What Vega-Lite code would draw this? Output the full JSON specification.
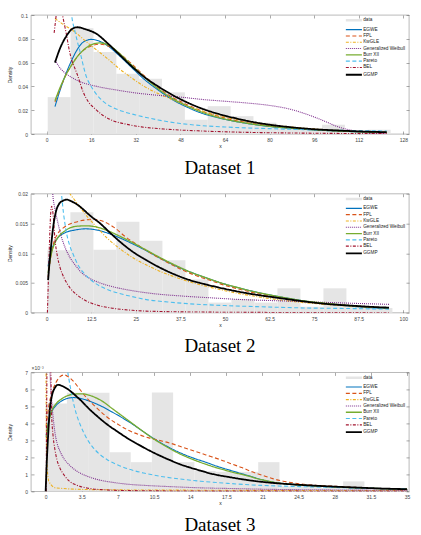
{
  "$schema": "https://vega.github.io/schema/vega-lite/v6.json",
  "background": "white",
  "padding": {"left": 6, "top": 12, "right": 4, "bottom": 2},
  "bounds": "flush",
  "spacing": 59.7,
  "config": {
    "view": {"stroke": "#8a8a8a", "strokeWidth": 0.6},
    "axis": {
      "labelFont": "Liberation Sans", "labelFontSize": 5, "labelColor": "#444",
      "tickColor": "#555", "tickWidth": 0.5, "tickSize": -3, "labelPadding": 6.5,
      "domain": false, "grid": false, "labelFlush": false, "labelOverlap": false,
      "titleFont": "Liberation Sans", "titleFontSize": 5, "titleFontWeight": "normal", "titleColor": "#222"
    },
    "legend": {
      "orient": "top-right", "offset": 3, "padding": 0,
      "labelFont": "Liberation Sans", "labelFontSize": 4.7, "labelColor": "#222",
      "symbolType": "M-1,0H9.7", "symbolSize": 9, "rowPadding": 0.3, "labelOffset": 13.5
    },
    "title": {"font": "Liberation Serif", "fontSize": 19, "fontWeight": "normal", "color": "#000", "orient": "bottom", "offset": 10}
  },
  "datasets": {
    "hist1": [
      {"series": "data", "lo": 0.4, "hi": 8.6, "density": 0.031},
      {"series": "data", "lo": 8.6, "hi": 16.8, "density": 0.0888},
      {"series": "data", "lo": 16.8, "hi": 25.0, "density": 0.069},
      {"series": "data", "lo": 25.0, "hi": 33.2, "density": 0.0506},
      {"series": "data", "lo": 33.2, "hi": 41.4, "density": 0.0465},
      {"series": "data", "lo": 41.4, "hi": 49.6, "density": 0.035},
      {"series": "data", "lo": 49.6, "hi": 57.8, "density": 0.012},
      {"series": "data", "lo": 57.8, "hi": 66.0, "density": 0.0234},
      {"series": "data", "lo": 66.0, "hi": 74.2, "density": 0.015},
      {"series": "data", "lo": 74.2, "hi": 82.4, "density": 0.0095},
      {"series": "data", "lo": 82.4, "hi": 90.6, "density": 0.005},
      {"series": "data", "lo": 90.6, "hi": 98.8, "density": 0.004},
      {"series": "data", "lo": 98.8, "hi": 107.0, "density": 0.0078},
      {"series": "data", "lo": 107.0, "hi": 115.2, "density": 0.002},
      {"series": "data", "lo": 115.2, "hi": 123.4, "density": 0.0036}
    ],
    "hist2": [
      {"series": "data", "lo": 0.2, "hi": 6.65, "density": 0.0105},
      {"series": "data", "lo": 6.65, "hi": 13.1, "density": 0.0169},
      {"series": "data", "lo": 13.1, "hi": 19.55, "density": 0.0106},
      {"series": "data", "lo": 19.55, "hi": 26.0, "density": 0.0153},
      {"series": "data", "lo": 26.0, "hi": 32.45, "density": 0.0121},
      {"series": "data", "lo": 32.45, "hi": 38.9, "density": 0.0088},
      {"series": "data", "lo": 38.9, "hi": 45.35, "density": 0.0056},
      {"series": "data", "lo": 45.35, "hi": 51.8, "density": 0.0017},
      {"series": "data", "lo": 51.8, "hi": 58.25, "density": 0.0023},
      {"series": "data", "lo": 58.25, "hi": 64.7, "density": 0.0017},
      {"series": "data", "lo": 64.7, "hi": 71.15, "density": 0.0041},
      {"series": "data", "lo": 71.15, "hi": 77.6, "density": 0.001},
      {"series": "data", "lo": 77.6, "hi": 84.05, "density": 0.0041},
      {"series": "data", "lo": 84.05, "hi": 90.5, "density": 0.001},
      {"series": "data", "lo": 90.5, "hi": 96.95, "density": 0.0008}
    ],
    "hist3": [
      {"series": "data", "lo": 0, "hi": 2.06, "density": 0.00517},
      {"series": "data", "lo": 2.06, "hi": 4.12, "density": 0.0058},
      {"series": "data", "lo": 4.12, "hi": 6.18, "density": 0.0058},
      {"series": "data", "lo": 6.18, "hi": 8.24, "density": 0.0023},
      {"series": "data", "lo": 8.24, "hi": 10.29, "density": 0.00172},
      {"series": "data", "lo": 10.29, "hi": 12.35, "density": 0.00582},
      {"series": "data", "lo": 12.35, "hi": 14.41, "density": 0.00172},
      {"series": "data", "lo": 14.41, "hi": 16.47, "density": 0.0012},
      {"series": "data", "lo": 16.47, "hi": 18.53, "density": 0.00115},
      {"series": "data", "lo": 18.53, "hi": 20.59, "density": 0.00115},
      {"series": "data", "lo": 20.59, "hi": 22.65, "density": 0.00172},
      {"series": "data", "lo": 22.65, "hi": 24.71, "density": 0.0003},
      {"series": "data", "lo": 24.71, "hi": 26.76, "density": 0.0003},
      {"series": "data", "lo": 26.76, "hi": 28.82, "density": 0.0002},
      {"series": "data", "lo": 28.82, "hi": 30.88, "density": 0.00059},
      {"series": "data", "lo": 30.88, "hi": 32.94, "density": 0.00015},
      {"series": "data", "lo": 32.94, "hi": 35.0, "density": 0.0001}
    ],
    "pdf1": [
      {"series": "EGWE", "x": 3, "density": 0.023}, {"series": "EGWE", "x": 5, "density": 0.038}, {"series": "EGWE", "x": 7, "density": 0.051}, {"series": "EGWE", "x": 9, "density": 0.062}, {"series": "EGWE", "x": 11, "density": 0.071}, {"series": "EGWE", "x": 13, "density": 0.077}, {"series": "EGWE", "x": 16, "density": 0.0795}, {"series": "EGWE", "x": 19, "density": 0.078}, {"series": "EGWE", "x": 22, "density": 0.074}, {"series": "EGWE", "x": 26, "density": 0.066}, {"series": "EGWE", "x": 30, "density": 0.057}, {"series": "EGWE", "x": 35, "density": 0.046}, {"series": "EGWE", "x": 40, "density": 0.037}, {"series": "EGWE", "x": 45, "density": 0.029}, {"series": "EGWE", "x": 50, "density": 0.023}, {"series": "EGWE", "x": 55, "density": 0.018}, {"series": "EGWE", "x": 60, "density": 0.0145}, {"series": "EGWE", "x": 65, "density": 0.0118}, {"series": "EGWE", "x": 72, "density": 0.0088}, {"series": "EGWE", "x": 80, "density": 0.0063}, {"series": "EGWE", "x": 88, "density": 0.0046}, {"series": "EGWE", "x": 96, "density": 0.0034}, {"series": "EGWE", "x": 104, "density": 0.0025}, {"series": "EGWE", "x": 112, "density": 0.0018}, {"series": "EGWE", "x": 122, "density": 0.0012},
      {"series": "FPL", "x": 3, "density": 0.027}, {"series": "FPL", "x": 5, "density": 0.039}, {"series": "FPL", "x": 7, "density": 0.05}, {"series": "FPL", "x": 9, "density": 0.058}, {"series": "FPL", "x": 11, "density": 0.065}, {"series": "FPL", "x": 13, "density": 0.07}, {"series": "FPL", "x": 16, "density": 0.074}, {"series": "FPL", "x": 19, "density": 0.0755}, {"series": "FPL", "x": 22, "density": 0.074}, {"series": "FPL", "x": 26, "density": 0.068}, {"series": "FPL", "x": 30, "density": 0.06}, {"series": "FPL", "x": 35, "density": 0.049}, {"series": "FPL", "x": 40, "density": 0.039}, {"series": "FPL", "x": 45, "density": 0.031}, {"series": "FPL", "x": 50, "density": 0.025}, {"series": "FPL", "x": 55, "density": 0.02}, {"series": "FPL", "x": 60, "density": 0.016}, {"series": "FPL", "x": 65, "density": 0.0128}, {"series": "FPL", "x": 72, "density": 0.0095}, {"series": "FPL", "x": 80, "density": 0.0068}, {"series": "FPL", "x": 88, "density": 0.005}, {"series": "FPL", "x": 96, "density": 0.0037}, {"series": "FPL", "x": 104, "density": 0.0027}, {"series": "FPL", "x": 112, "density": 0.002}, {"series": "FPL", "x": 122, "density": 0.0014},
      {"series": "KwGLE", "x": 3, "density": 0.097}, {"series": "KwGLE", "x": 6, "density": 0.092}, {"series": "KwGLE", "x": 10, "density": 0.086}, {"series": "KwGLE", "x": 14, "density": 0.078}, {"series": "KwGLE", "x": 18, "density": 0.0705}, {"series": "KwGLE", "x": 22, "density": 0.063}, {"series": "KwGLE", "x": 26, "density": 0.055}, {"series": "KwGLE", "x": 30, "density": 0.048}, {"series": "KwGLE", "x": 35, "density": 0.04}, {"series": "KwGLE", "x": 40, "density": 0.034}, {"series": "KwGLE", "x": 45, "density": 0.029}, {"series": "KwGLE", "x": 50, "density": 0.024}, {"series": "KwGLE", "x": 55, "density": 0.02}, {"series": "KwGLE", "x": 60, "density": 0.0165}, {"series": "KwGLE", "x": 65, "density": 0.0137}, {"series": "KwGLE", "x": 72, "density": 0.0105}, {"series": "KwGLE", "x": 80, "density": 0.0078}, {"series": "KwGLE", "x": 88, "density": 0.0058}, {"series": "KwGLE", "x": 96, "density": 0.0043}, {"series": "KwGLE", "x": 104, "density": 0.0031}, {"series": "KwGLE", "x": 112, "density": 0.0023}, {"series": "KwGLE", "x": 122, "density": 0.0015},
      {"series": "Generalized Weibull", "x": 3, "density": 0.062}, {"series": "Generalized Weibull", "x": 5, "density": 0.055}, {"series": "Generalized Weibull", "x": 8, "density": 0.049}, {"series": "Generalized Weibull", "x": 12, "density": 0.044}, {"series": "Generalized Weibull", "x": 18, "density": 0.04}, {"series": "Generalized Weibull", "x": 25, "density": 0.037}, {"series": "Generalized Weibull", "x": 32, "density": 0.0345}, {"series": "Generalized Weibull", "x": 40, "density": 0.0325}, {"series": "Generalized Weibull", "x": 48, "density": 0.031}, {"series": "Generalized Weibull", "x": 56, "density": 0.029}, {"series": "Generalized Weibull", "x": 64, "density": 0.0275}, {"series": "Generalized Weibull", "x": 72, "density": 0.026}, {"series": "Generalized Weibull", "x": 80, "density": 0.024}, {"series": "Generalized Weibull", "x": 88, "density": 0.0205}, {"series": "Generalized Weibull", "x": 94, "density": 0.016}, {"series": "Generalized Weibull", "x": 100, "density": 0.0105}, {"series": "Generalized Weibull", "x": 104, "density": 0.0065}, {"series": "Generalized Weibull", "x": 108, "density": 0.0038}, {"series": "Generalized Weibull", "x": 112, "density": 0.002}, {"series": "Generalized Weibull", "x": 116, "density": 0.0008}, {"series": "Generalized Weibull", "x": 122, "density": 0.0002},
      {"series": "Burr XII", "x": 3, "density": 0.028}, {"series": "Burr XII", "x": 5, "density": 0.04}, {"series": "Burr XII", "x": 7, "density": 0.05}, {"series": "Burr XII", "x": 9, "density": 0.058}, {"series": "Burr XII", "x": 11, "density": 0.065}, {"series": "Burr XII", "x": 13, "density": 0.07}, {"series": "Burr XII", "x": 16, "density": 0.075}, {"series": "Burr XII", "x": 19, "density": 0.0765}, {"series": "Burr XII", "x": 22, "density": 0.075}, {"series": "Burr XII", "x": 26, "density": 0.068}, {"series": "Burr XII", "x": 30, "density": 0.059}, {"series": "Burr XII", "x": 35, "density": 0.048}, {"series": "Burr XII", "x": 40, "density": 0.038}, {"series": "Burr XII", "x": 45, "density": 0.03}, {"series": "Burr XII", "x": 50, "density": 0.024}, {"series": "Burr XII", "x": 55, "density": 0.019}, {"series": "Burr XII", "x": 60, "density": 0.015}, {"series": "Burr XII", "x": 65, "density": 0.012}, {"series": "Burr XII", "x": 72, "density": 0.009}, {"series": "Burr XII", "x": 80, "density": 0.0065}, {"series": "Burr XII", "x": 88, "density": 0.0048}, {"series": "Burr XII", "x": 96, "density": 0.0035}, {"series": "Burr XII", "x": 104, "density": 0.0026}, {"series": "Burr XII", "x": 112, "density": 0.0019}, {"series": "Burr XII", "x": 122, "density": 0.0013},
      {"series": "Pareto", "x": 8.4, "density": 0.12}, {"series": "Pareto", "x": 9, "density": 0.1}, {"series": "Pareto", "x": 10, "density": 0.088}, {"series": "Pareto", "x": 11, "density": 0.078}, {"series": "Pareto", "x": 12, "density": 0.069}, {"series": "Pareto", "x": 13, "density": 0.059}, {"series": "Pareto", "x": 14, "density": 0.05}, {"series": "Pareto", "x": 16, "density": 0.04}, {"series": "Pareto", "x": 18, "density": 0.033}, {"series": "Pareto", "x": 20, "density": 0.028}, {"series": "Pareto", "x": 24, "density": 0.022}, {"series": "Pareto", "x": 28, "density": 0.0185}, {"series": "Pareto", "x": 32, "density": 0.016}, {"series": "Pareto", "x": 40, "density": 0.0118}, {"series": "Pareto", "x": 48, "density": 0.0088}, {"series": "Pareto", "x": 56, "density": 0.007}, {"series": "Pareto", "x": 64, "density": 0.0059}, {"series": "Pareto", "x": 72, "density": 0.0051}, {"series": "Pareto", "x": 80, "density": 0.0045}, {"series": "Pareto", "x": 96, "density": 0.0035}, {"series": "Pareto", "x": 112, "density": 0.0028}, {"series": "Pareto", "x": 122, "density": 0.0025},
      {"series": "BEL", "x": 2.7, "density": 0.085}, {"series": "BEL", "x": 3.3, "density": 0.097}, {"series": "BEL", "x": 3.8, "density": 0.108}, {"series": "BEL", "x": 4.5, "density": 0.114}, {"series": "BEL", "x": 5.2, "density": 0.106}, {"series": "BEL", "x": 5.7, "density": 0.1}, {"series": "BEL", "x": 6.3, "density": 0.093}, {"series": "BEL", "x": 7, "density": 0.085}, {"series": "BEL", "x": 8, "density": 0.072}, {"series": "BEL", "x": 9, "density": 0.062}, {"series": "BEL", "x": 10, "density": 0.056}, {"series": "BEL", "x": 11, "density": 0.05}, {"series": "BEL", "x": 13, "density": 0.036}, {"series": "BEL", "x": 15, "density": 0.027}, {"series": "BEL", "x": 17, "density": 0.022}, {"series": "BEL", "x": 20, "density": 0.016}, {"series": "BEL", "x": 24, "density": 0.011}, {"series": "BEL", "x": 28, "density": 0.0085}, {"series": "BEL", "x": 34, "density": 0.006}, {"series": "BEL", "x": 42, "density": 0.0042}, {"series": "BEL", "x": 56, "density": 0.0025}, {"series": "BEL", "x": 72, "density": 0.0014}, {"series": "BEL", "x": 90, "density": 0.0008}, {"series": "BEL", "x": 110, "density": 0.0004}, {"series": "BEL", "x": 122, "density": 0.0003},
      {"series": "GGMP", "x": 3, "density": 0.06}, {"series": "GGMP", "x": 5, "density": 0.073}, {"series": "GGMP", "x": 7, "density": 0.082}, {"series": "GGMP", "x": 9, "density": 0.088}, {"series": "GGMP", "x": 11, "density": 0.0897}, {"series": "GGMP", "x": 14, "density": 0.088}, {"series": "GGMP", "x": 18, "density": 0.084}, {"series": "GGMP", "x": 22, "density": 0.076}, {"series": "GGMP", "x": 26, "density": 0.067}, {"series": "GGMP", "x": 30, "density": 0.058}, {"series": "GGMP", "x": 35, "density": 0.048}, {"series": "GGMP", "x": 40, "density": 0.04}, {"series": "GGMP", "x": 45, "density": 0.033}, {"series": "GGMP", "x": 50, "density": 0.027}, {"series": "GGMP", "x": 55, "density": 0.022}, {"series": "GGMP", "x": 60, "density": 0.018}, {"series": "GGMP", "x": 65, "density": 0.0148}, {"series": "GGMP", "x": 72, "density": 0.011}, {"series": "GGMP", "x": 80, "density": 0.0078}, {"series": "GGMP", "x": 88, "density": 0.0056}, {"series": "GGMP", "x": 96, "density": 0.004}, {"series": "GGMP", "x": 104, "density": 0.003}, {"series": "GGMP", "x": 112, "density": 0.0022}, {"series": "GGMP", "x": 122, "density": 0.0015}
    ],
    "pdf2": [
      {"series": "EGWE", "x": 0.4, "density": 0.0078}, {"series": "EGWE", "x": 1, "density": 0.0098}, {"series": "EGWE", "x": 2, "density": 0.0115}, {"series": "EGWE", "x": 3, "density": 0.0125}, {"series": "EGWE", "x": 5, "density": 0.0134}, {"series": "EGWE", "x": 8, "density": 0.0139}, {"series": "EGWE", "x": 11, "density": 0.0141}, {"series": "EGWE", "x": 14, "density": 0.0139}, {"series": "EGWE", "x": 17, "density": 0.0134}, {"series": "EGWE", "x": 20, "density": 0.0127}, {"series": "EGWE", "x": 24, "density": 0.0116}, {"series": "EGWE", "x": 28, "density": 0.0104}, {"series": "EGWE", "x": 32, "density": 0.0091}, {"series": "EGWE", "x": 36, "density": 0.0079}, {"series": "EGWE", "x": 40, "density": 0.0069}, {"series": "EGWE", "x": 45, "density": 0.0058}, {"series": "EGWE", "x": 50, "density": 0.0048}, {"series": "EGWE", "x": 55, "density": 0.004}, {"series": "EGWE", "x": 60, "density": 0.0033}, {"series": "EGWE", "x": 66, "density": 0.0026}, {"series": "EGWE", "x": 72, "density": 0.002}, {"series": "EGWE", "x": 78, "density": 0.0015}, {"series": "EGWE", "x": 85, "density": 0.0011}, {"series": "EGWE", "x": 92, "density": 0.0008}, {"series": "EGWE", "x": 96, "density": 0.0007},
      {"series": "FPL", "x": 0.4, "density": 0.006}, {"series": "FPL", "x": 1, "density": 0.0088}, {"series": "FPL", "x": 2, "density": 0.0118}, {"series": "FPL", "x": 3, "density": 0.0132}, {"series": "FPL", "x": 5, "density": 0.0144}, {"series": "FPL", "x": 8, "density": 0.0152}, {"series": "FPL", "x": 11, "density": 0.0156}, {"series": "FPL", "x": 13, "density": 0.0157}, {"series": "FPL", "x": 16, "density": 0.0153}, {"series": "FPL", "x": 19, "density": 0.0143}, {"series": "FPL", "x": 22, "density": 0.0128}, {"series": "FPL", "x": 26, "density": 0.0112}, {"series": "FPL", "x": 30, "density": 0.0097}, {"series": "FPL", "x": 34, "density": 0.0084}, {"series": "FPL", "x": 38, "density": 0.0072}, {"series": "FPL", "x": 42, "density": 0.0062}, {"series": "FPL", "x": 46, "density": 0.0054}, {"series": "FPL", "x": 50, "density": 0.0046}, {"series": "FPL", "x": 55, "density": 0.0038}, {"series": "FPL", "x": 60, "density": 0.0031}, {"series": "FPL", "x": 66, "density": 0.0025}, {"series": "FPL", "x": 72, "density": 0.0019}, {"series": "FPL", "x": 78, "density": 0.0015}, {"series": "FPL", "x": 85, "density": 0.0012}, {"series": "FPL", "x": 92, "density": 0.0009}, {"series": "FPL", "x": 96, "density": 0.0008},
      {"series": "KwGLE", "x": 2, "density": 0.034}, {"series": "KwGLE", "x": 4, "density": 0.026}, {"series": "KwGLE", "x": 6, "density": 0.0208}, {"series": "KwGLE", "x": 8, "density": 0.0188}, {"series": "KwGLE", "x": 10, "density": 0.0172}, {"series": "KwGLE", "x": 12, "density": 0.0157}, {"series": "KwGLE", "x": 14, "density": 0.0144}, {"series": "KwGLE", "x": 17, "density": 0.0125}, {"series": "KwGLE", "x": 20, "density": 0.011}, {"series": "KwGLE", "x": 24, "density": 0.0093}, {"series": "KwGLE", "x": 28, "density": 0.008}, {"series": "KwGLE", "x": 32, "density": 0.0069}, {"series": "KwGLE", "x": 36, "density": 0.006}, {"series": "KwGLE", "x": 40, "density": 0.0052}, {"series": "KwGLE", "x": 45, "density": 0.0044}, {"series": "KwGLE", "x": 50, "density": 0.0037}, {"series": "KwGLE", "x": 55, "density": 0.0031}, {"series": "KwGLE", "x": 60, "density": 0.0026}, {"series": "KwGLE", "x": 66, "density": 0.0021}, {"series": "KwGLE", "x": 72, "density": 0.0017}, {"series": "KwGLE", "x": 78, "density": 0.0014}, {"series": "KwGLE", "x": 85, "density": 0.0011}, {"series": "KwGLE", "x": 92, "density": 0.0009}, {"series": "KwGLE", "x": 96, "density": 0.0008},
      {"series": "Generalized Weibull", "x": 1.2, "density": 0.026}, {"series": "Generalized Weibull", "x": 1.7, "density": 0.02}, {"series": "Generalized Weibull", "x": 2.3, "density": 0.0175}, {"series": "Generalized Weibull", "x": 3, "density": 0.0155}, {"series": "Generalized Weibull", "x": 4, "density": 0.013}, {"series": "Generalized Weibull", "x": 5, "density": 0.0112}, {"series": "Generalized Weibull", "x": 6.5, "density": 0.0093}, {"series": "Generalized Weibull", "x": 8, "density": 0.008}, {"series": "Generalized Weibull", "x": 10, "density": 0.0066}, {"series": "Generalized Weibull", "x": 12, "density": 0.0058}, {"series": "Generalized Weibull", "x": 15, "density": 0.005}, {"series": "Generalized Weibull", "x": 19, "density": 0.0043}, {"series": "Generalized Weibull", "x": 24, "density": 0.0037}, {"series": "Generalized Weibull", "x": 30, "density": 0.0032}, {"series": "Generalized Weibull", "x": 38, "density": 0.0028}, {"series": "Generalized Weibull", "x": 46, "density": 0.0025}, {"series": "Generalized Weibull", "x": 55, "density": 0.0022}, {"series": "Generalized Weibull", "x": 65, "density": 0.002}, {"series": "Generalized Weibull", "x": 75, "density": 0.0018}, {"series": "Generalized Weibull", "x": 85, "density": 0.0016}, {"series": "Generalized Weibull", "x": 96, "density": 0.0014},
      {"series": "Burr XII", "x": 0.4, "density": 0.0067}, {"series": "Burr XII", "x": 1, "density": 0.009}, {"series": "Burr XII", "x": 2, "density": 0.0113}, {"series": "Burr XII", "x": 3, "density": 0.0125}, {"series": "Burr XII", "x": 5, "density": 0.0137}, {"series": "Burr XII", "x": 8, "density": 0.0145}, {"series": "Burr XII", "x": 11, "density": 0.0146}, {"series": "Burr XII", "x": 14, "density": 0.0144}, {"series": "Burr XII", "x": 17, "density": 0.0138}, {"series": "Burr XII", "x": 20, "density": 0.013}, {"series": "Burr XII", "x": 24, "density": 0.0118}, {"series": "Burr XII", "x": 28, "density": 0.0105}, {"series": "Burr XII", "x": 32, "density": 0.0092}, {"series": "Burr XII", "x": 36, "density": 0.008}, {"series": "Burr XII", "x": 40, "density": 0.0069}, {"series": "Burr XII", "x": 45, "density": 0.0058}, {"series": "Burr XII", "x": 50, "density": 0.0048}, {"series": "Burr XII", "x": 55, "density": 0.004}, {"series": "Burr XII", "x": 60, "density": 0.0033}, {"series": "Burr XII", "x": 66, "density": 0.0026}, {"series": "Burr XII", "x": 72, "density": 0.002}, {"series": "Burr XII", "x": 78, "density": 0.0016}, {"series": "Burr XII", "x": 85, "density": 0.0012}, {"series": "Burr XII", "x": 92, "density": 0.0009}, {"series": "Burr XII", "x": 96, "density": 0.0008},
      {"series": "Pareto", "x": 3.6, "density": 0.024}, {"series": "Pareto", "x": 4, "density": 0.021}, {"series": "Pareto", "x": 4.7, "density": 0.0168}, {"series": "Pareto", "x": 5.5, "density": 0.0136}, {"series": "Pareto", "x": 6.5, "density": 0.0112}, {"series": "Pareto", "x": 7.5, "density": 0.0097}, {"series": "Pareto", "x": 9, "density": 0.0078}, {"series": "Pareto", "x": 10.5, "density": 0.0066}, {"series": "Pareto", "x": 12, "density": 0.0057}, {"series": "Pareto", "x": 14, "density": 0.0048}, {"series": "Pareto", "x": 17, "density": 0.0039}, {"series": "Pareto", "x": 20, "density": 0.0033}, {"series": "Pareto", "x": 24, "density": 0.0027}, {"series": "Pareto", "x": 28, "density": 0.0022}, {"series": "Pareto", "x": 34, "density": 0.0018}, {"series": "Pareto", "x": 40, "density": 0.0015}, {"series": "Pareto", "x": 50, "density": 0.0012}, {"series": "Pareto", "x": 60, "density": 0.001}, {"series": "Pareto", "x": 72, "density": 0.0008}, {"series": "Pareto", "x": 85, "density": 0.0007}, {"series": "Pareto", "x": 96, "density": 0.0006},
      {"series": "BEL", "x": 0.2, "density": 0.0}, {"series": "BEL", "x": 0.5, "density": 0.006}, {"series": "BEL", "x": 0.8, "density": 0.012}, {"series": "BEL", "x": 1.1, "density": 0.0165}, {"series": "BEL", "x": 1.4, "density": 0.0179}, {"series": "BEL", "x": 1.8, "density": 0.0165}, {"series": "BEL", "x": 2.3, "density": 0.0125}, {"series": "BEL", "x": 3, "density": 0.0095}, {"series": "BEL", "x": 3.8, "density": 0.0075}, {"series": "BEL", "x": 5, "density": 0.0057}, {"series": "BEL", "x": 6.5, "density": 0.0042}, {"series": "BEL", "x": 8.5, "density": 0.003}, {"series": "BEL", "x": 11, "density": 0.002}, {"series": "BEL", "x": 14, "density": 0.0013}, {"series": "BEL", "x": 18, "density": 0.0008}, {"series": "BEL", "x": 24, "density": 0.0004}, {"series": "BEL", "x": 32, "density": 0.0002}, {"series": "BEL", "x": 45, "density": 0.0001}, {"series": "BEL", "x": 60, "density": 0.00005}, {"series": "BEL", "x": 96, "density": 0.0},
      {"series": "GGMP", "x": 0.4, "density": 0.0055}, {"series": "GGMP", "x": 0.8, "density": 0.0085}, {"series": "GGMP", "x": 1.2, "density": 0.011}, {"series": "GGMP", "x": 1.8, "density": 0.0143}, {"series": "GGMP", "x": 2.6, "density": 0.017}, {"series": "GGMP", "x": 3.5, "density": 0.0183}, {"series": "GGMP", "x": 4.5, "density": 0.0188}, {"series": "GGMP", "x": 5.6, "density": 0.019}, {"series": "GGMP", "x": 7, "density": 0.0187}, {"series": "GGMP", "x": 8.5, "density": 0.0182}, {"series": "GGMP", "x": 10, "density": 0.0175}, {"series": "GGMP", "x": 12, "density": 0.0164}, {"series": "GGMP", "x": 15, "density": 0.015}, {"series": "GGMP", "x": 18, "density": 0.0133}, {"series": "GGMP", "x": 21, "density": 0.0117}, {"series": "GGMP", "x": 24, "density": 0.0103}, {"series": "GGMP", "x": 28, "density": 0.0088}, {"series": "GGMP", "x": 32, "density": 0.0075}, {"series": "GGMP", "x": 36, "density": 0.0064}, {"series": "GGMP", "x": 40, "density": 0.0055}, {"series": "GGMP", "x": 45, "density": 0.0047}, {"series": "GGMP", "x": 50, "density": 0.004}, {"series": "GGMP", "x": 55, "density": 0.0034}, {"series": "GGMP", "x": 60, "density": 0.0029}, {"series": "GGMP", "x": 66, "density": 0.0024}, {"series": "GGMP", "x": 72, "density": 0.0019}, {"series": "GGMP", "x": 78, "density": 0.0015}, {"series": "GGMP", "x": 85, "density": 0.0012}, {"series": "GGMP", "x": 92, "density": 0.00095}, {"series": "GGMP", "x": 96, "density": 0.00085}
    ],
    "pdf3": [
      {"series": "EGWE", "x": 0.05, "density": 0.0033}, {"series": "EGWE", "x": 0.3, "density": 0.0042}, {"series": "EGWE", "x": 0.6, "density": 0.0047}, {"series": "EGWE", "x": 1, "density": 0.00505}, {"series": "EGWE", "x": 1.5, "density": 0.0053}, {"series": "EGWE", "x": 2, "density": 0.00545}, {"series": "EGWE", "x": 2.7, "density": 0.00552}, {"series": "EGWE", "x": 3.5, "density": 0.00545}, {"series": "EGWE", "x": 4.5, "density": 0.00525}, {"series": "EGWE", "x": 5.5, "density": 0.00498}, {"series": "EGWE", "x": 6.5, "density": 0.00465}, {"series": "EGWE", "x": 7.5, "density": 0.0043}, {"series": "EGWE", "x": 8.5, "density": 0.00392}, {"series": "EGWE", "x": 9.5, "density": 0.0035}, {"series": "EGWE", "x": 10.5, "density": 0.0031}, {"series": "EGWE", "x": 11.5, "density": 0.00274}, {"series": "EGWE", "x": 12.5, "density": 0.00242}, {"series": "EGWE", "x": 13.5, "density": 0.00215}, {"series": "EGWE", "x": 14.5, "density": 0.00192}, {"series": "EGWE", "x": 15.5, "density": 0.00172}, {"series": "EGWE", "x": 16.5, "density": 0.0015}, {"series": "EGWE", "x": 18, "density": 0.00122}, {"series": "EGWE", "x": 19.5, "density": 0.00095}, {"series": "EGWE", "x": 21, "density": 0.00068}, {"series": "EGWE", "x": 22.5, "density": 0.0005}, {"series": "EGWE", "x": 24, "density": 0.0004}, {"series": "EGWE", "x": 26, "density": 0.00032}, {"series": "EGWE", "x": 28, "density": 0.00026}, {"series": "EGWE", "x": 31, "density": 0.00019}, {"series": "EGWE", "x": 35, "density": 0.00013},
      {"series": "FPL", "x": 0.05, "density": 0.0038}, {"series": "FPL", "x": 0.3, "density": 0.005}, {"series": "FPL", "x": 0.6, "density": 0.0058}, {"series": "FPL", "x": 1, "density": 0.0064}, {"series": "FPL", "x": 1.4, "density": 0.00675}, {"series": "FPL", "x": 1.8, "density": 0.00685}, {"series": "FPL", "x": 2.3, "density": 0.0067}, {"series": "FPL", "x": 2.8, "density": 0.0064}, {"series": "FPL", "x": 3.5, "density": 0.00585}, {"series": "FPL", "x": 4.2, "density": 0.00535}, {"series": "FPL", "x": 5, "density": 0.00488}, {"series": "FPL", "x": 6, "density": 0.00435}, {"series": "FPL", "x": 7, "density": 0.00395}, {"series": "FPL", "x": 8, "density": 0.0036}, {"series": "FPL", "x": 9, "density": 0.00335}, {"series": "FPL", "x": 10, "density": 0.00315}, {"series": "FPL", "x": 11, "density": 0.003}, {"series": "FPL", "x": 12, "density": 0.00285}, {"series": "FPL", "x": 13, "density": 0.00265}, {"series": "FPL", "x": 14, "density": 0.00245}, {"series": "FPL", "x": 15, "density": 0.00225}, {"series": "FPL", "x": 16, "density": 0.00205}, {"series": "FPL", "x": 17, "density": 0.00185}, {"series": "FPL", "x": 18, "density": 0.00162}, {"series": "FPL", "x": 19, "density": 0.0014}, {"series": "FPL", "x": 20, "density": 0.00115}, {"series": "FPL", "x": 21, "density": 0.00095}, {"series": "FPL", "x": 22, "density": 0.00075}, {"series": "FPL", "x": 23, "density": 0.0006}, {"series": "FPL", "x": 25, "density": 0.00042}, {"series": "FPL", "x": 28, "density": 0.0003}, {"series": "FPL", "x": 31, "density": 0.0002}, {"series": "FPL", "x": 35, "density": 0.00013},
      {"series": "KwGLE", "x": 0.02, "density": 0.009}, {"series": "KwGLE", "x": 0.1, "density": 0.002}, {"series": "KwGLE", "x": 0.3, "density": 0.0006}, {"series": "KwGLE", "x": 1, "density": 0.0002}, {"series": "KwGLE", "x": 5, "density": 0.0001}, {"series": "KwGLE", "x": 15, "density": 0.00007}, {"series": "KwGLE", "x": 35, "density": 0.00005},
      {"series": "Generalized Weibull", "x": 0.3, "density": 0.009}, {"series": "Generalized Weibull", "x": 0.42, "density": 0.007}, {"series": "Generalized Weibull", "x": 0.5, "density": 0.006}, {"series": "Generalized Weibull", "x": 0.6, "density": 0.0052}, {"series": "Generalized Weibull", "x": 0.75, "density": 0.0042}, {"series": "Generalized Weibull", "x": 0.9, "density": 0.00345}, {"series": "Generalized Weibull", "x": 1.1, "density": 0.00285}, {"series": "Generalized Weibull", "x": 1.4, "density": 0.00235}, {"series": "Generalized Weibull", "x": 1.8, "density": 0.0019}, {"series": "Generalized Weibull", "x": 2.3, "density": 0.00155}, {"series": "Generalized Weibull", "x": 3, "density": 0.0012}, {"series": "Generalized Weibull", "x": 4, "density": 0.0009}, {"series": "Generalized Weibull", "x": 5, "density": 0.0007}, {"series": "Generalized Weibull", "x": 6.5, "density": 0.00053}, {"series": "Generalized Weibull", "x": 8, "density": 0.00042}, {"series": "Generalized Weibull", "x": 10, "density": 0.00034}, {"series": "Generalized Weibull", "x": 12.5, "density": 0.00027}, {"series": "Generalized Weibull", "x": 15, "density": 0.00021}, {"series": "Generalized Weibull", "x": 18, "density": 0.00017}, {"series": "Generalized Weibull", "x": 22, "density": 0.00012}, {"series": "Generalized Weibull", "x": 27, "density": 0.00009}, {"series": "Generalized Weibull", "x": 35, "density": 0.00006},
      {"series": "Burr XII", "x": 0.05, "density": 0.0032}, {"series": "Burr XII", "x": 0.3, "density": 0.0041}, {"series": "Burr XII", "x": 0.6, "density": 0.00475}, {"series": "Burr XII", "x": 1, "density": 0.00515}, {"series": "Burr XII", "x": 1.5, "density": 0.00542}, {"series": "Burr XII", "x": 2, "density": 0.0056}, {"series": "Burr XII", "x": 2.7, "density": 0.00572}, {"series": "Burr XII", "x": 3.5, "density": 0.00574}, {"series": "Burr XII", "x": 4.5, "density": 0.0056}, {"series": "Burr XII", "x": 5.5, "density": 0.0053}, {"series": "Burr XII", "x": 6.5, "density": 0.00485}, {"series": "Burr XII", "x": 7.5, "density": 0.0044}, {"series": "Burr XII", "x": 8.5, "density": 0.00395}, {"series": "Burr XII", "x": 9.5, "density": 0.0035}, {"series": "Burr XII", "x": 10.5, "density": 0.00307}, {"series": "Burr XII", "x": 11.5, "density": 0.0027}, {"series": "Burr XII", "x": 12.5, "density": 0.00236}, {"series": "Burr XII", "x": 13.5, "density": 0.00207}, {"series": "Burr XII", "x": 14.5, "density": 0.00182}, {"series": "Burr XII", "x": 15.5, "density": 0.0016}, {"series": "Burr XII", "x": 16.5, "density": 0.0014}, {"series": "Burr XII", "x": 18, "density": 0.00115}, {"series": "Burr XII", "x": 19.5, "density": 0.00092}, {"series": "Burr XII", "x": 21, "density": 0.00068}, {"series": "Burr XII", "x": 22.5, "density": 0.0005}, {"series": "Burr XII", "x": 24, "density": 0.0004}, {"series": "Burr XII", "x": 26, "density": 0.00032}, {"series": "Burr XII", "x": 28, "density": 0.00026}, {"series": "Burr XII", "x": 31, "density": 0.00019}, {"series": "Burr XII", "x": 35, "density": 0.00013},
      {"series": "Pareto", "x": 2.05, "density": 0.0074}, {"series": "Pareto", "x": 2.2, "density": 0.0068}, {"series": "Pareto", "x": 2.4, "density": 0.0061}, {"series": "Pareto", "x": 2.7, "density": 0.0052}, {"series": "Pareto", "x": 3, "density": 0.0045}, {"series": "Pareto", "x": 3.4, "density": 0.00385}, {"series": "Pareto", "x": 3.9, "density": 0.0032}, {"series": "Pareto", "x": 4.5, "density": 0.00265}, {"series": "Pareto", "x": 5.2, "density": 0.0022}, {"series": "Pareto", "x": 6, "density": 0.00185}, {"series": "Pareto", "x": 7, "density": 0.00155}, {"series": "Pareto", "x": 8, "density": 0.00132}, {"series": "Pareto", "x": 9.5, "density": 0.00108}, {"series": "Pareto", "x": 11, "density": 0.0009}, {"series": "Pareto", "x": 13, "density": 0.00073}, {"series": "Pareto", "x": 15, "density": 0.0006}, {"series": "Pareto", "x": 17.5, "density": 0.00048}, {"series": "Pareto", "x": 20, "density": 0.00038}, {"series": "Pareto", "x": 23, "density": 0.00031}, {"series": "Pareto", "x": 26, "density": 0.00026}, {"series": "Pareto", "x": 30, "density": 0.0002}, {"series": "Pareto", "x": 35, "density": 0.00015},
      {"series": "BEL", "x": 0.05, "density": 0.0}, {"series": "BEL", "x": 0.1, "density": 0.005}, {"series": "BEL", "x": 0.15, "density": 0.009}, {"series": "BEL", "x": 0.3, "density": 0.012}, {"series": "BEL", "x": 0.45, "density": 0.009}, {"series": "BEL", "x": 0.5, "density": 0.0072}, {"series": "BEL", "x": 0.58, "density": 0.0045}, {"series": "BEL", "x": 0.7, "density": 0.0034}, {"series": "BEL", "x": 0.9, "density": 0.00245}, {"series": "BEL", "x": 1.1, "density": 0.00185}, {"series": "BEL", "x": 1.4, "density": 0.00135}, {"series": "BEL", "x": 1.8, "density": 0.00095}, {"series": "BEL", "x": 2.3, "density": 0.0006}, {"series": "BEL", "x": 3, "density": 0.00037}, {"series": "BEL", "x": 4, "density": 0.0002}, {"series": "BEL", "x": 5.5, "density": 0.0001}, {"series": "BEL", "x": 8, "density": 0.00005}, {"series": "BEL", "x": 15, "density": 0.00002}, {"series": "BEL", "x": 35, "density": 0.00001},
      {"series": "GGMP", "x": 0, "density": 0}, {"series": "GGMP", "x": 0.1, "density": 0.0016}, {"series": "GGMP", "x": 0.25, "density": 0.0034}, {"series": "GGMP", "x": 0.4, "density": 0.0048}, {"series": "GGMP", "x": 0.6, "density": 0.0056}, {"series": "GGMP", "x": 0.9, "density": 0.0061}, {"series": "GGMP", "x": 1.2, "density": 0.00627}, {"series": "GGMP", "x": 1.6, "density": 0.0062}, {"series": "GGMP", "x": 2, "density": 0.00607}, {"series": "GGMP", "x": 2.5, "density": 0.00585}, {"series": "GGMP", "x": 3, "density": 0.00558}, {"series": "GGMP", "x": 3.5, "density": 0.0053}, {"series": "GGMP", "x": 4, "density": 0.00498}, {"series": "GGMP", "x": 5, "density": 0.00442}, {"series": "GGMP", "x": 6, "density": 0.00392}, {"series": "GGMP", "x": 7, "density": 0.0035}, {"series": "GGMP", "x": 8, "density": 0.0031}, {"series": "GGMP", "x": 9, "density": 0.00275}, {"series": "GGMP", "x": 10, "density": 0.00242}, {"series": "GGMP", "x": 11, "density": 0.00212}, {"series": "GGMP", "x": 12, "density": 0.00185}, {"series": "GGMP", "x": 13, "density": 0.0016}, {"series": "GGMP", "x": 14, "density": 0.0014}, {"series": "GGMP", "x": 15, "density": 0.00122}, {"series": "GGMP", "x": 16, "density": 0.00105}, {"series": "GGMP", "x": 18, "density": 0.00082}, {"series": "GGMP", "x": 20, "density": 0.00063}, {"series": "GGMP", "x": 22, "density": 0.0005}, {"series": "GGMP", "x": 24, "density": 0.00041}, {"series": "GGMP", "x": 26, "density": 0.00034}, {"series": "GGMP", "x": 28, "density": 0.00028}, {"series": "GGMP", "x": 30, "density": 0.00023}, {"series": "GGMP", "x": 32, "density": 0.00018}, {"series": "GGMP", "x": 35, "density": 0.00013}
    ]
  },
  "vconcat": [
    {
      "width": 378, "height": 119,
      "title": {"text": "Dataset 1", "orient": "bottom"},
      "layer": [
        {
          "data": {"name": "hist1"},
          "mark": {"type": "rect"},
          "encoding": {
            "x": {"field": "lo", "type": "quantitative", "scale": {"domain": [-5.6, 130], "nice": false, "zero": false},
                  "axis": {"values": [0, 16, 32, 48, 64, 80, 96, 112, 128], "labelExpr": "'' + datum.value", "title": "x", "titlePadding": 1}},
            "x2": {"field": "hi"},
            "y": {"field": "density", "type": "quantitative", "scale": {"domain": [0, 0.1], "nice": false},
                  "axis": {"values": [0, 0.02, 0.04, 0.06, 0.08, 0.1], "labelExpr": "'' + datum.value", "title": "Density", "titleX": -19, "titleY": 59.5}},
            "y2": {"datum": 0},
            "color": {"field": "series", "type": "nominal",
                      "scale": {"domain": ["data", "EGWE", "FPL", "KwGLE", "Generalized Weibull", "Burr XII", "Pareto", "BEL", "GGMP"],
                                "range": ["#e5e5e5", "#0072BD", "#D95319", "#EDB120", "#7E2F8E", "#77AC30", "#4DBEEE", "#A2142F", "#000000"]},
                      "legend": {"title": null, "symbolType": "M-1,0H9.7", "encode": {"symbols": {"update": {"strokeWidth": {"signal": "datum.value === 'data' ? 2.5 : datum.value === 'GGMP' ? 1.8 : datum.value === 'Burr XII' ? 1.3 : 1.1"}}}}}}
          }
        },
        {
          "data": {"name": "pdf1"},
          "mark": {"type": "line", "clip": true, "interpolate": "monotone"},
          "encoding": {
            "x": {"field": "x", "type": "quantitative", "axis": {"orient": "top", "values": [0, 16, 32, 48, 64, 80, 96, 112, 128], "labels": false, "title": null}},
            "y": {"field": "density", "type": "quantitative", "axis": {"orient": "right", "values": [0, 0.02, 0.04, 0.06, 0.08, 0.1], "labels": false, "title": null}},
            "color": {"field": "series", "type": "nominal",
                      "legend": {"title": null, "symbolType": "M-1,0H9.7", "encode": {"symbols": {"update": {"strokeWidth": {"signal": "datum.value === 'data' ? 2.5 : datum.value === 'GGMP' ? 1.8 : datum.value === 'Burr XII' ? 1.3 : 1.1"}}}}}},
            "strokeDash": {"field": "series", "type": "nominal",
                           "scale": {"domain": ["data", "EGWE", "FPL", "KwGLE", "Generalized Weibull", "Burr XII", "Pareto", "BEL", "GGMP"],
                                     "range": [[1, 0], [1, 0], [4, 2.5], [3, 1.5, 1, 1.5], [1, 1], [1, 0], [4, 2.5], [3, 1.5, 1, 1.5], [1, 0]]},
                           "legend": {"title": null, "symbolType": "M-1,0H9.7", "encode": {"symbols": {"update": {"strokeWidth": {"signal": "datum.value === 'data' ? 2.5 : datum.value === 'GGMP' ? 1.8 : datum.value === 'Burr XII' ? 1.3 : 1.1"}}}}}},
            "strokeWidth": {"condition": [{"test": "datum.series === 'GGMP'", "value": 1.8}, {"test": "datum.series === 'Burr XII'", "value": 1.3}], "value": 1.1}
          }
        }
      ],
      "resolve": {"axis": {"x": "independent", "y": "independent"}}
    },
    {
      "width": 378, "height": 119,
      "title": {"text": "Dataset 2", "orient": "bottom"},
      "layer": [
        {
          "data": {"name": "hist2"},
          "mark": {"type": "rect"},
          "encoding": {
            "x": {"field": "lo", "type": "quantitative", "scale": {"domain": [-4.4, 101.6], "nice": false, "zero": false},
                  "axis": {"values": [0, 12.5, 25, 37.5, 50, 62.5, 75, 87.5, 100], "labelExpr": "'' + datum.value", "title": "x", "titlePadding": 1}},
            "x2": {"field": "hi"},
            "y": {"field": "density", "type": "quantitative", "scale": {"domain": [0, 0.02], "nice": false},
                  "axis": {"values": [0, 0.005, 0.01, 0.015, 0.02], "labelExpr": "'' + datum.value", "title": "Density", "titleX": -19, "titleY": 59.5}},
            "y2": {"datum": 0},
            "color": {"field": "series", "type": "nominal",
                      "scale": {"domain": ["data", "EGWE", "FPL", "KwGLE", "Generalized Weibull", "Burr XII", "Pareto", "BEL", "GGMP"],
                                "range": ["#e5e5e5", "#0072BD", "#D95319", "#EDB120", "#7E2F8E", "#77AC30", "#4DBEEE", "#A2142F", "#000000"]},
                      "legend": {"title": null, "symbolType": "M-1,0H9.7", "encode": {"symbols": {"update": {"strokeWidth": {"signal": "datum.value === 'data' ? 2.5 : datum.value === 'GGMP' ? 1.8 : datum.value === 'Burr XII' ? 1.3 : 1.1"}}}}}}
          }
        },
        {
          "data": {"name": "pdf2"},
          "mark": {"type": "line", "clip": true, "interpolate": "monotone"},
          "encoding": {
            "x": {"field": "x", "type": "quantitative", "axis": {"orient": "top", "values": [0, 12.5, 25, 37.5, 50, 62.5, 75, 87.5, 100], "labels": false, "title": null}},
            "y": {"field": "density", "type": "quantitative", "axis": {"orient": "right", "values": [0, 0.005, 0.01, 0.015, 0.02], "labels": false, "title": null}},
            "color": {"field": "series", "type": "nominal",
                      "legend": {"title": null, "symbolType": "M-1,0H9.7", "encode": {"symbols": {"update": {"strokeWidth": {"signal": "datum.value === 'data' ? 2.5 : datum.value === 'GGMP' ? 1.8 : datum.value === 'Burr XII' ? 1.3 : 1.1"}}}}}},
            "strokeDash": {"field": "series", "type": "nominal",
                           "scale": {"domain": ["data", "EGWE", "FPL", "KwGLE", "Generalized Weibull", "Burr XII", "Pareto", "BEL", "GGMP"],
                                     "range": [[1, 0], [1, 0], [4, 2.5], [3, 1.5, 1, 1.5], [1, 1], [1, 0], [4, 2.5], [3, 1.5, 1, 1.5], [1, 0]]},
                           "legend": {"title": null, "symbolType": "M-1,0H9.7", "encode": {"symbols": {"update": {"strokeWidth": {"signal": "datum.value === 'data' ? 2.5 : datum.value === 'GGMP' ? 1.8 : datum.value === 'Burr XII' ? 1.3 : 1.1"}}}}}},
            "strokeWidth": {"condition": [{"test": "datum.series === 'GGMP'", "value": 1.8}, {"test": "datum.series === 'Burr XII'", "value": 1.3}], "value": 1.1}
          }
        }
      ],
      "resolve": {"axis": {"x": "independent", "y": "independent"}}
    },
    {
      "width": 378, "height": 119,
      "title": {"text": "Dataset 3", "orient": "bottom"},
      "layer": [
        {
          "data": {"name": "hist3"},
          "mark": {"type": "rect"},
          "encoding": {
            "x": {"field": "lo", "type": "quantitative", "scale": {"domain": [-1.42, 35.2], "nice": false, "zero": false},
                  "axis": {"values": [0, 3.5, 7, 10.5, 14, 17.5, 21, 24.5, 28, 31.5, 35], "labelExpr": "'' + datum.value", "title": "x", "titlePadding": 1}},
            "x2": {"field": "hi"},
            "y": {"field": "density", "type": "quantitative", "scale": {"domain": [0, 0.007], "nice": false},
                  "axis": {"values": [0, 0.001, 0.002, 0.003, 0.004, 0.005, 0.006, 0.007], "labelExpr": "'' + round(datum.value * 1000)", "title": "Density", "titleX": -19, "titleY": 59.5}},
            "y2": {"datum": 0},
            "color": {"field": "series", "type": "nominal",
                      "scale": {"domain": ["data", "EGWE", "FPL", "KwGLE", "Generalized Weibull", "Burr XII", "Pareto", "BEL", "GGMP"],
                                "range": ["#e5e5e5", "#0072BD", "#D95319", "#EDB120", "#7E2F8E", "#77AC30", "#4DBEEE", "#A2142F", "#000000"]},
                      "legend": {"title": null, "symbolType": "M-1,0H9.7", "encode": {"symbols": {"update": {"strokeWidth": {"signal": "datum.value === 'data' ? 2.5 : datum.value === 'GGMP' ? 1.8 : datum.value === 'Burr XII' ? 1.3 : 1.1"}}}}}}
          }
        },
        {
          "data": {"name": "pdf3"},
          "mark": {"type": "line", "clip": true, "interpolate": "monotone"},
          "encoding": {
            "x": {"field": "x", "type": "quantitative", "axis": {"orient": "top", "values": [0, 3.5, 7, 10.5, 14, 17.5, 21, 24.5, 28, 31.5, 35], "labels": false, "title": null}},
            "y": {"field": "density", "type": "quantitative",
                  "axis": {"orient": "right", "values": [0, 0.001, 0.002, 0.003, 0.004, 0.005, 0.006, 0.007], "labels": false,
                           "title": "×10⁻³", "titleAngle": 0, "titleX": -378, "titleY": -2, "titleAlign": "left", "titleBaseline": "bottom", "titleColor": "#444"}},
            "color": {"field": "series", "type": "nominal",
                      "legend": {"title": null, "symbolType": "M-1,0H9.7", "encode": {"symbols": {"update": {"strokeWidth": {"signal": "datum.value === 'data' ? 2.5 : datum.value === 'GGMP' ? 1.8 : datum.value === 'Burr XII' ? 1.3 : 1.1"}}}}}},
            "strokeDash": {"field": "series", "type": "nominal",
                           "scale": {"domain": ["data", "EGWE", "FPL", "KwGLE", "Generalized Weibull", "Burr XII", "Pareto", "BEL", "GGMP"],
                                     "range": [[1, 0], [1, 0], [4, 2.5], [3, 1.5, 1, 1.5], [1, 1], [1, 0], [4, 2.5], [3, 1.5, 1, 1.5], [1, 0]]},
                           "legend": {"title": null, "symbolType": "M-1,0H9.7", "encode": {"symbols": {"update": {"strokeWidth": {"signal": "datum.value === 'data' ? 2.5 : datum.value === 'GGMP' ? 1.8 : datum.value === 'Burr XII' ? 1.3 : 1.1"}}}}}},
            "strokeWidth": {"condition": [{"test": "datum.series === 'GGMP'", "value": 1.8}, {"test": "datum.series === 'Burr XII'", "value": 1.3}], "value": 1.1}
          }
        }
      ],
      "resolve": {"axis": {"x": "independent", "y": "independent"}}
    }
  ],
  "resolve": {
    "scale": {"x": "independent", "y": "independent", "color": "independent", "strokeDash": "independent"},
    "legend": {"color": "independent", "strokeDash": "independent"}
  }
}
